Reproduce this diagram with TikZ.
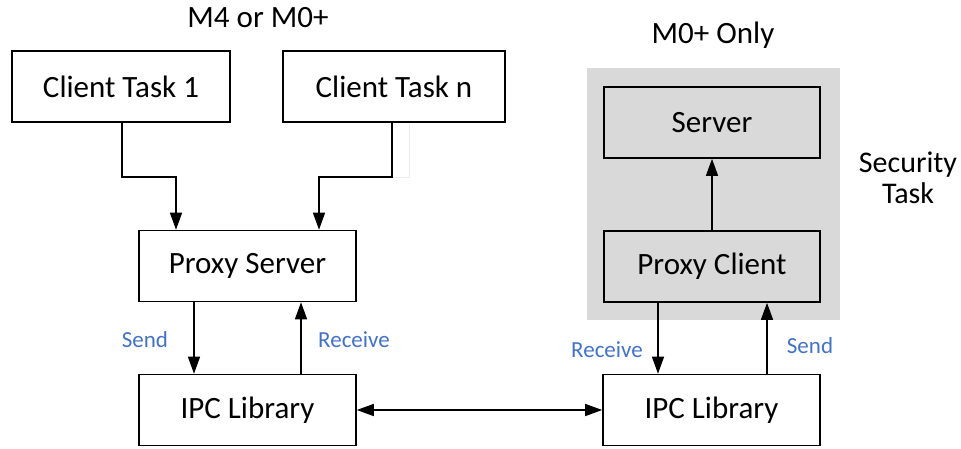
\documentclass[tikz,border=0pt]{standalone}
\usepackage{fontspec}
\setmainfont{Carlito}
\usetikzlibrary{arrows.meta}
\definecolor{lblue}{RGB}{68,114,196}
\definecolor{greyfill}{RGB}{217,217,217}
\begin{document}
\begin{tikzpicture}[x=1pt,y=-1pt,
  box/.style={draw,line width=1.6pt,fill=white,inner sep=0pt,minimum height=71pt},
  tip/.style={Triangle[length=17pt,width=12pt]},
  conn/.style={line width=1.4pt,-{Triangle[length=17pt,width=12pt]}},
  lbl/.style={text=lblue,font=\fontsize{23}{27}\selectfont,inner sep=0pt},
  big/.style={font=\fontsize{31}{37}\selectfont}]
\useasboundingbox (0,0) rectangle (961,448);
% grey region
\fill[greyfill] (587,68) rectangle (840,320);
% boxes
\node[box,big,minimum width=218pt] (ct1) at (121,86.5) {Client Task 1};
\node[box,big,minimum width=222pt] (ctn) at (394,86.5) {Client Task n};
\node[box,big,minimum width=217pt] (ps) at (247.5,266) {Proxy Server};
\node[box,big,minimum width=217pt] (ipcl) at (247.5,410) {IPC Library};
\node[box,big,fill=greyfill,minimum width=216pt] (srv) at (712,122.5) {Server};
\node[box,big,fill=greyfill,minimum width=216pt] (pc) at (712,266.5) {Proxy Client};
\node[box,big,minimum width=217pt] (ipcr) at (711.5,410) {IPC Library};
% titles
\node[big] (t1) at (258,18) {M4 or M0+};
\node[big] (t2) at (713,35) {M0+ Only};
\node[align=center,font=\fontsize{30}{36}\selectfont,inner sep=0pt] (t3) at (908,178) {Security\\[-5pt]Task};
% faint artifact
\coordinate (fa) at (409,123);
\coordinate (fb) at (409,177);
\coordinate (fc) at (392,177);
\draw[line width=0.6pt,color=black!8] (fa) -- (fb) -- (fc);
% connectors
\draw[conn] (ct1.south -| 122,0) |- (176,177) -- (ps.north -| 176,0);
\draw[conn] (ctn.south -| 392,0) |- (319,177) -- (ps.north -| 319,0);
\draw[conn] (ps.south -| 194,0) -- (ipcl.north -| 194,0);
\draw[conn] (ipcl.north -| 301,0) -- (ps.south -| 301,0);
\draw[conn] (pc.south -| 658,0) -- (ipcr.north -| 658,0);
\draw[conn] (ipcr.north -| 767,0) -- (pc.south -| 767,0);
\draw[conn] (pc.north) -- (srv.south);
\draw[line width=1.4pt,{Triangle[length=17pt,width=12pt]}-{Triangle[length=17pt,width=12pt]}] (ipcl.east) -- (ipcr.west);
% labels
\node[lbl] (s1) at (145,340) {Send};
\node[lbl] (r1) at (354,340) {Receive};
\node[lbl] (r2) at (607,350) {Receive};
\node[lbl] (s2) at (810,346) {Send};
\end{tikzpicture}
\end{document}
